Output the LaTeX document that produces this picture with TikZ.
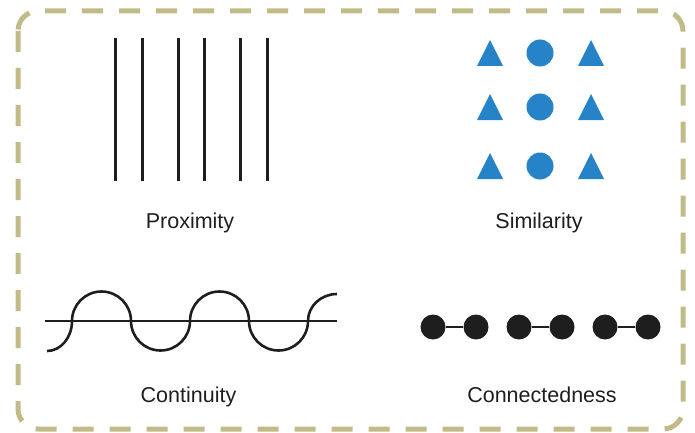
\documentclass[tikz,border=0pt]{standalone}
\usepackage{fontspec}
\setmainfont{Liberation Sans}
\usetikzlibrary{positioning}

\definecolor{frameolive}{RGB}{193,188,135}
\definecolor{simblue}{RGB}{38,131,199}
\definecolor{inkgray}{RGB}{30,30,30}

\begin{document}
\begin{tikzpicture}[x=1pt, y=-1pt,
  frame/.style={draw=frameolive, line width=5pt, dash pattern=on 21pt off 16pt, rounded corners=20pt},
  bar/.style={draw=inkgray, line width=3pt},
  stroke/.style={draw=inkgray, line width=2.6pt},
  caption/.style={anchor=base, text=inkgray, inner sep=0pt, font=\fontsize{21.5}{24}\selectfont},
  blob/.style={circle, fill=simblue, minimum size=27pt, inner sep=0pt},
  dot/.style={circle, fill=inkgray, minimum size=25pt, inner sep=0pt},
  link/.style={draw=inkgray, line width=2pt}
]
\useasboundingbox (0,0) rectangle (695,433);
\path[frame] (18,11) rectangle (683,429);

% proximity
\foreach \x in {115,142,178,204,240,267}
  \draw[bar] (\x,38) -- (\x,181);
\node[caption] (prox) at (190,228) {Proximity};

% similarity
\foreach \y [count=\i] in {53,107,166} {
  \fill[simblue] (477,\y+13) -- (503,\y+13) -- (490,\y-13) -- cycle;
  \node[blob] (sim\i) at (540,\y) {};
  \fill[simblue] (578,\y+13) -- (604,\y+13) -- (591,\y-13) -- cycle;
}
\node[caption] (simi) at (539,228) {Similarity};

% continuity
\draw[stroke] (45,321) -- (337,321);
\draw[stroke] (47,351) arc[start angle=90, end angle=0, x radius=25, y radius=30]
  arc[start angle=180, end angle=360, radius=29.5]
  arc[start angle=180, end angle=0, radius=29.5]
  arc[start angle=180, end angle=360, radius=29.5]
  arc[start angle=180, end angle=0, radius=29.5]
  arc[start angle=180, end angle=270, x radius=29, y radius=27];
\node[caption] (cont) at (188.5,402) {Continuity};

% connectedness
\node[dot] (c1) at (433,327) {};
\node[dot, right=17.6pt of c1] (c2) {};
\node[dot, right=17.6pt of c2] (c3) {};
\node[dot, right=17.6pt of c3] (c4) {};
\node[dot, right=17.6pt of c4] (c5) {};
\node[dot, right=17.6pt of c5] (c6) {};
\draw[link] (c1) -- (c2);
\draw[link] (c3) -- (c4);
\draw[link] (c5) -- (c6);
\node[caption] (conn) at (542,402) {Connectedness};

\end{tikzpicture}
\end{document}
